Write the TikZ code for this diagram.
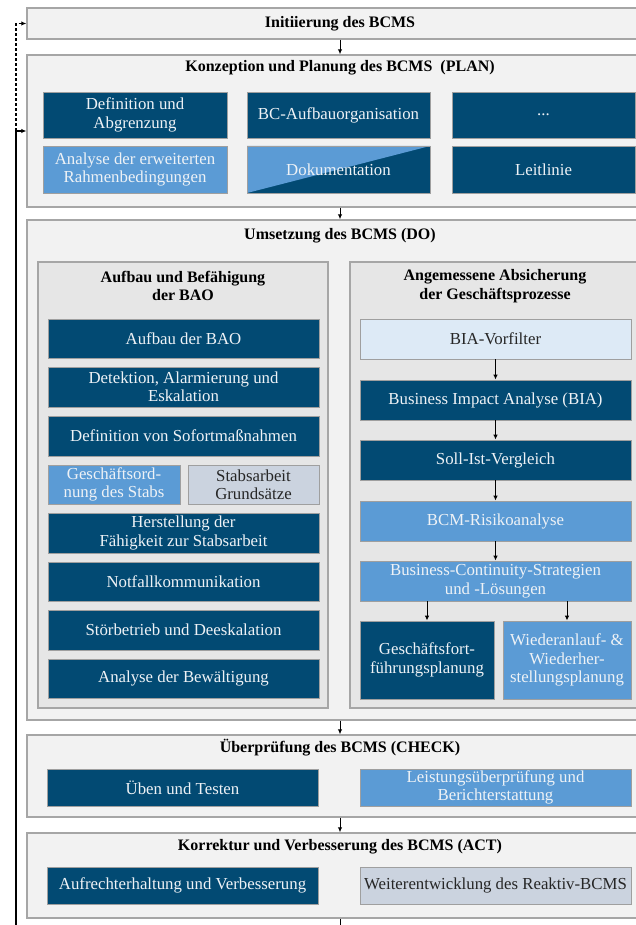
\documentclass[tikz,border=0pt]{standalone}
\usepackage{fontspec}
\setmainfont{Liberation Serif}
\usetikzlibrary{arrows.meta}
\definecolor{phasefill}{HTML}{F2F2F2}
\definecolor{groupfill}{HTML}{E6E6E6}
\definecolor{frame}{HTML}{A6A6A6}
\definecolor{bcdark}{HTML}{024A73}
\definecolor{bcmid}{HTML}{5B9BD5}
\definecolor{bclight}{HTML}{DDEAF6}
\definecolor{bcgrey}{HTML}{CBD3DF}
\definecolor{boxtext}{HTML}{EEF2F6}
\begin{document}
\begin{tikzpicture}[x=1pt, y=-1pt,
  font=\fontsize{16.8}{18.5}\selectfont,
  phase/.style={draw=frame, fill=phasefill, line width=1.4pt, minimum width=626pt, inner sep=0pt},
  group/.style={draw=frame, fill=groupfill, line width=1.2pt, inner sep=0pt},
  title/.style={font=\fontsize{16}{18.5}\selectfont\bfseries, align=center, text=black},
  box/.style={draw=gray!75, line width=0.8pt, minimum width=271pt, minimum height=40pt, inner sep=1.5pt, align=center},
  dark/.style={box, fill=bcdark, text=boxtext},
  mid/.style={box, fill=bcmid, text=boxtext},
  light/.style={box, fill=bclight, text=black!85},
  grey/.style={box, fill=bcgrey, text=black!85},
  arr/.style={-{Latex[length=5pt,width=4.5pt]}, line width=1pt}
]
  \useasboundingbox (0,0) rectangle (636,925);
  \clip (0,0) rectangle (636,925);

  \node[phase, minimum height=31pt, font=\fontsize{16}{18.5}\selectfont\bfseries] (init) at (340,23.5) {Initiierung des BCMS};

  \node[phase, minimum height=152pt] (plan) at (340,131) {};
  \node[title] (plantitle) at (340,68) {Konzeption und Planung des BCMS~~(PLAN)};
  \node[dark, minimum width=184pt, minimum height=46pt] (defn) at (135,115) {Definition und\\Abgrenzung};
  \node[dark, minimum width=183pt, minimum height=46pt] (bcao) at (338.5,115) {BC-Aufbauorganisation};
  \node[dark, minimum width=183pt, minimum height=46pt] (more) at (543.5,115) {...};
  \node[mid, minimum width=184pt, minimum height=47pt] (rahmen) at (135,169.5) {Analyse der erweiterten\\Rahmenbedingungen};
  \node[dark, minimum width=183pt, minimum height=47pt,
    path picture={\fill[bcmid] (path picture bounding box.south west) -- (path picture bounding box.north west) -- (path picture bounding box.north east) -- cycle;}] (doku) at (338.5,169.5) {Dokumentation};
  \node[dark, minimum width=183pt, minimum height=47pt] (leitlinie) at (543.5,169.5) {Leitlinie};

  \node[phase, minimum height=500pt] (do) at (340,470) {};
  \node[title] (dotitle) at (340,236) {Umsetzung des BCMS (DO)};
  \node[group, minimum width=290pt, minimum height=446pt] (bao) at (183,485) {};
  \node[group, minimum width=291pt, minimum height=446pt] (proz) at (495.5,485) {};
  \node[title] (baotitle) at (183,286) {Aufbau und Befähigung\\der BAO};
  \node[title] (proztitle) at (495,286) {Angemessene Absicherung\\der Geschäftsprozesse};

  \node[dark, minimum height=39pt] (aufbau) at (183.5,338.5) {Aufbau der BAO};
  \node[dark] (detekt) at (183.5,387) {Detektion, Alarmierung und\\Eskalation};
  \node[dark] (sofort) at (183.5,436) {Definition von Sofortmaßnahmen};
  \node[mid, minimum width=132pt, minimum height=39pt] (gostab) at (114,484.5) {Geschäftsord-\\nung des Stabs};
  \node[grey, minimum width=131pt, minimum height=39pt] (grunds) at (253.5,484.5) {Stabsarbeit\\Grundsätze};
  \node[dark] (herst) at (183.5,533) {Herstellung der\\Fähigkeit zur Stabsarbeit};
  \node[dark, minimum height=39pt] (notfall) at (183.5,581.5) {Notfallkommunikation};
  \node[dark] (stoer) at (183.5,630) {Störbetrieb und Deeskalation};
  \node[dark, minimum height=39pt] (bewaelt) at (183.5,678.5) {Analyse der Bewältigung};

  \node[light] (vorfilter) at (495.5,339) {BIA-Vorfilter};
  \node[dark] (bia) at (495.5,400) {Business Impact Analyse (BIA)};
  \node[dark] (sollist) at (495.5,460) {Soll-Ist-Vergleich};
  \node[mid] (risiko) at (495.5,521) {BCM-Risikoanalyse};
  \node[mid] (strat) at (495.5,581) {Business-Continuity-Strategien\\und -Lösungen};
  \node[dark, minimum width=134pt, minimum height=78pt] (gff) at (427,660) {Geschäftsfort-\\führungsplanung};
  \node[mid, minimum width=128pt, minimum height=78pt] (wdh) at (567,660) {Wiederanlauf- \&\\Wiederher-\\stellungsplanung};

  \draw[arr] (vorfilter) -- (bia);
  \draw[arr] (bia) -- (sollist);
  \draw[arr] (sollist) -- (risiko);
  \draw[arr] (risiko) -- (strat);
  \draw[arr] (strat.south -| gff.north) -- (gff.north);
  \draw[arr] (strat.south -| wdh.north) -- (wdh.north);

  \node[phase, minimum height=82pt] (check) at (340,776) {};
  \node[title] (checktitle) at (340,748) {Überprüfung des BCMS (CHECK)};
  \node[dark, minimum height=37pt] (ueben) at (182.5,787.5) {Üben und Testen};
  \node[mid, minimum height=37pt] (leist) at (495.5,787.5) {Leistungsüberprüfung und\\Berichterstattung};

  \node[phase, minimum height=85pt] (act) at (340,875.5) {};
  \node[title] (acttitle) at (340,847) {Korrektur und Verbesserung des BCMS (ACT)};
  \node[dark, minimum height=37pt] (aufrecht) at (182.5,885.5) {Aufrechterhaltung und Verbesserung};
  \node[grey, minimum height=37pt] (weiter) at (495.5,885.5) {Weiterentwicklung des Reaktiv-BCMS};

  \draw[arr] (init) -- (plan);
  \draw[arr] (plan) -- (do);
  \draw[arr] (do) -- (check);
  \draw[arr] (check) -- (act);
  \coordinate (actout) at (340,935);
  \draw[line width=1pt] (act) -- (actout);

  \coordinate (loopstart) at (16,935);
  \draw[arr, line width=1.3pt] (loopstart) |- (plan.west);
  \draw[arr, line width=1.3pt, dash pattern=on 3pt off 2pt] (plan.west -| loopstart) |- (init.west);
\end{tikzpicture}
\end{document}
